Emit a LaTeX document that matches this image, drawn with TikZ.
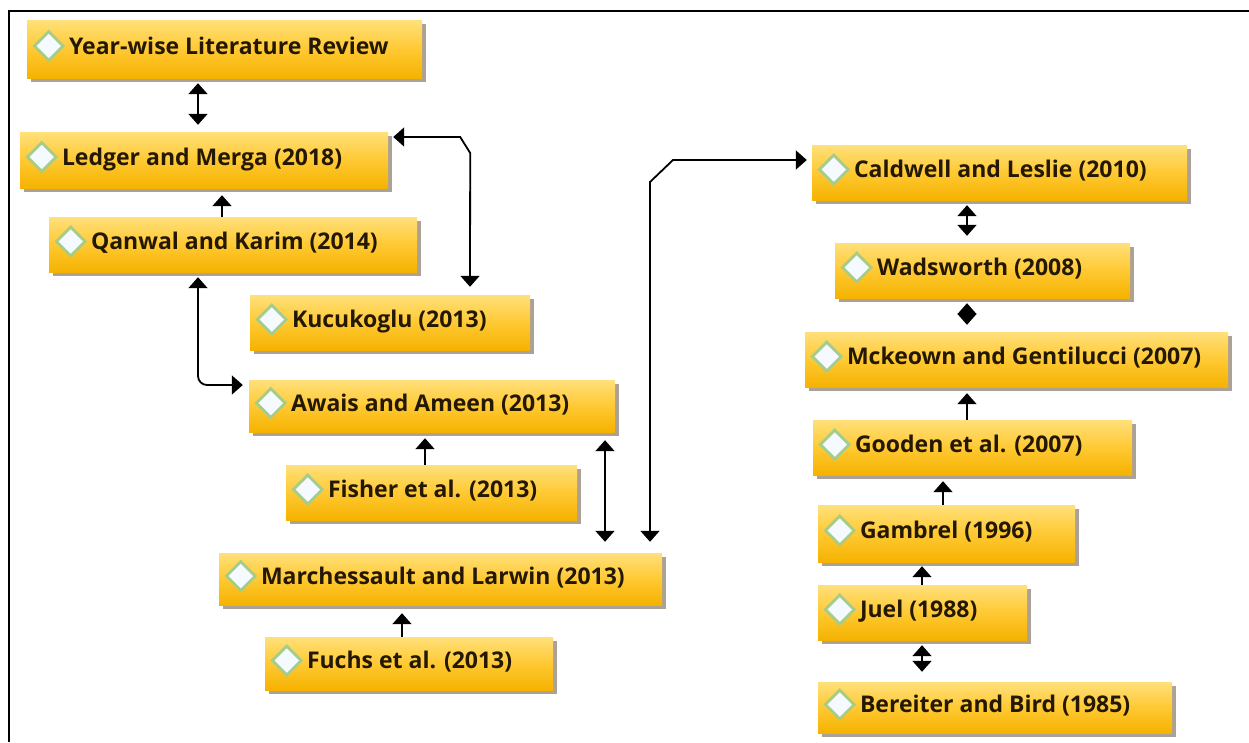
\documentclass[tikz,border=0pt]{standalone}
\usepackage{fontspec}
\setmainfont{Open Sans}
\usetikzlibrary{shapes.geometric,shadows,arrows.meta,calc}
\definecolor{ytop}{HTML}{FFE07A}
\definecolor{ymid}{HTML}{FFC933}
\definecolor{ybot}{HTML}{F5B200}
\definecolor{dgreen}{HTML}{A6CC88}
\definecolor{dfill}{HTML}{F4FAFF}
\definecolor{txt}{HTML}{241802}
\definecolor{shad}{HTML}{7E705E}
\newcommand\mkbox[6]{%
  \node[litbox, minimum width={(#4-#2)*1pt}, minimum height={(#5-#3)*1pt}] (#1) at ({(#2+#4)/2},{(#3+#5)/2}) {};
  \node[ico] (#1-i) at ([xshift=22pt,yshift=3pt]#1.west) {};
  \node[lbl] (#1-t) at ([xshift=42pt,yshift=-5pt]#1.west) {#6};}
\begin{document}
\begin{tikzpicture}[x=1pt,y=-1pt,
  litbox/.style={rectangle, inner sep=0pt, draw=none, top color=ytop, bottom color=ybot, middle color=ymid,
    drop shadow={shadow xshift=4pt, shadow yshift=-4pt, fill=shad, opacity=0.65}},
  ico/.style={diamond, aspect=1, minimum size=30pt, inner sep=0pt, fill=dfill, draw=dgreen, line width=2.8pt},
  lbl/.style={anchor=base west, inner sep=0pt, font=\fontsize{23}{27}\selectfont\bfseries, text=txt},
  con/.style={line width=1.8pt, draw=black},
  one/.style={con, -{Triangle[width=19pt,length=11pt]}},
  two/.style={con, {Triangle[width=19pt,length=11pt]}-{Triangle[width=19pt,length=11pt]}},
]
\useasboundingbox (0,0) rectangle (1249,742);
\fill[white] (0,0) rectangle (1249,742);
\draw[line width=1.8pt] (9,742) -- (9,11) -- (1249,11);

\mkbox{Y}{27}{20}{422}{78}{Year-wise Literature Review}
\mkbox{L}{20}{132}{388}{188}{Ledger and Merga (2018)}
\mkbox{Q}{49}{217}{417}{272}{Qanwal and Karim (2014)}
\mkbox{K}{250}{295}{530}{350}{Kucukoglu (2013)}
\mkbox{A}{249}{380}{615}{432}{Awais and Ameen (2013)}
\mkbox{F}{286}{465}{577}{520}{Fisher et al. (2013)}
\mkbox{M}{219}{553}{662}{605}{Marchessault and Larwin (2013)}
\mkbox{Fu}{265}{637}{553}{690}{Fuchs et al. (2013)}
\mkbox{C}{812}{145}{1187}{200}{Caldwell and Leslie (2010)}
\mkbox{W}{835}{243}{1130}{298}{Wadsworth (2008)}
\mkbox{Mk}{805}{332}{1228}{387}{Mckeown and Gentilucci (2007)}
\mkbox{G}{813}{420}{1132}{475}{Gooden et al. (2007)}
\mkbox{Ga}{818}{505}{1075}{562}{Gambrel (1996)}
\mkbox{J}{818}{585}{1027}{640}{Juel (1988)}
\mkbox{B}{818}{682}{1172}{733}{Bereiter and Bird (1985)}

% connectors
\draw[two, shorten <=5pt, shorten >=7pt] ([xshift=-26.5pt]Y.south) -- ([xshift=-26.5pt]Y.south |- L.north);
\draw[one, shorten >=7pt] ([xshift=-11pt]Q.north) -- ([xshift=-11pt]Q.north |- L.south);
\draw[two] ([xshift=5pt,yshift=23pt]L.east) -- ++(67,0) -- ++(10,16) -- ([xshift=80pt,yshift=8pt]K.north);
\draw[two, rounded corners=9pt] ([xshift=-35pt,yshift=-5pt]Q.south) |- ([xshift=-6pt,yshift=21pt]A.west);
\draw[one, shorten >=6pt] ([xshift=-6.5pt]F.north) -- ([xshift=-6.5pt]F.north |- A.south);
\draw[two, shorten <=8pt, shorten >=11pt] ([xshift=173pt]A.south) -- ([xshift=173pt]A.south |- M.north);
\draw[one, shorten >=8pt] ([xshift=-7pt]Fu.north) -- ([xshift=-7pt]Fu.north |- M.south);
\coordinate (mc1) at (650,182);
\draw[two] ([xshift=209.5pt,yshift=11pt]M.north) -- (mc1) -- ++(23,-22) -- ([xshift=-5pt,yshift=12.5pt]C.west);
\draw[two, shorten <=5pt, shorten >=7pt] ([xshift=-32.5pt]C.south) -- ([xshift=-32.5pt]C.south |- W.north);
\draw[two, shorten <=5pt, shorten >=7pt] ([xshift=-15.5pt]W.south) -- ([xshift=-15.5pt]W.south |- Mk.north);
\draw[one, shorten >=6pt] ([xshift=-5.5pt]G.north) -- ([xshift=-5.5pt]G.north |- Mk.south);
\draw[one, shorten >=6pt] ([xshift=-3.5pt]Ga.north) -- ([xshift=-3.5pt]Ga.north |- G.south);
\draw[one, shorten >=4pt] ([xshift=-0.5pt]J.north) -- ([xshift=-0.5pt]J.north |- Ga.south);
\draw[two, shorten <=5pt, shorten >=10pt] ([xshift=-0.5pt]J.south) -- ([xshift=-0.5pt]J.south |- B.north);
\end{tikzpicture}
\end{document}
